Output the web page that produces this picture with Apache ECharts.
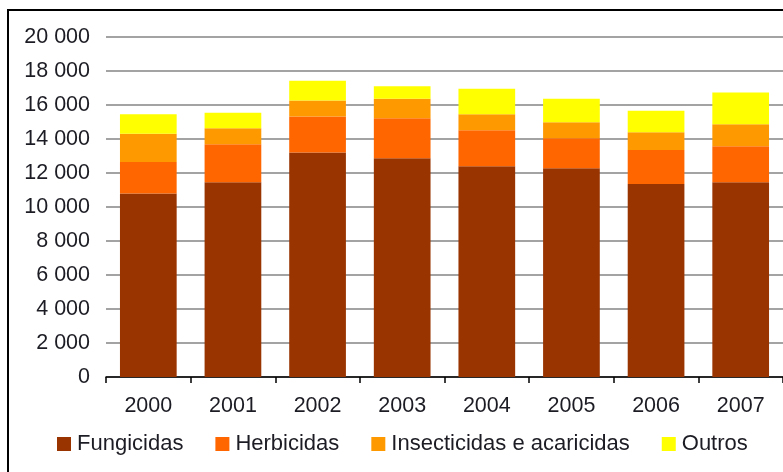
<!DOCTYPE html>
<html>
<head>
<meta charset="utf-8">
<script src="https://cdn.jsdelivr.net/npm/echarts@6/dist/echarts.min.js"></script>
<style>
  body { margin: 0; background: #fff; }
  #wrap { position: relative; width: 783px; height: 472px; overflow: hidden; }
  #main { width: 783px; height: 472px; }
  #frame { position: absolute; left: 7px; top: 9px; width: 800px; height: 500px;
           border-left: 2px solid #000; border-top: 2px solid #000; pointer-events: none; }
</style>
</head>
<body>
<div id="wrap">
  <div id="main"></div>
  <div id="frame"></div>
</div>
<script>
  // anos e valores
  var years = ['2000', '2001', '2002', '2003', '2004', '2005', '2006', '2007'];
  var fungicidas = [10800, 11450, 13200, 12870, 12400, 12280, 11350, 11450];
  var herbicidas = [1850, 2240, 2120, 2350, 2110, 1760, 2000, 2120];
  var insecticidas = [1660, 940, 950, 1150, 940, 940, 1040, 1300];
  var outros = [1150, 920, 1150, 730, 1510, 1390, 1270, 1860];

  var txt = '#1c1c24';
  var font = '"Liberation Sans", Arial, sans-serif';

  var myChart = echarts.init(document.getElementById('main'));

  function serie(name, data, color) {
    return {
      name: name,
      type: 'bar',
      stack: 'total',
      barCategoryGap: '33%',
      itemStyle: { color: color },
      data: data
    };
  }

  var option = {
    animation: false,
    textStyle: { fontFamily: font },
    grid: { left: 106, right: -5, top: 37, bottom: 95 },
    legend: {
      left: 52,
      top: 428,
      itemWidth: 14,
      itemHeight: 14,
      itemGap: 32,
      icon: 'rect',
      textStyle: { fontSize: 22, color: txt, fontFamily: font, padding: [0, 0, 0, 1] },
      data: ['Fungicidas', 'Herbicidas', 'Insecticidas e acaricidas', 'Outros']
    },
    xAxis: {
      type: 'category',
      data: years,
      axisLine: { lineStyle: { color: '#000', width: 1.5 } },
      axisTick: { show: true, length: 6, lineStyle: { color: '#000', width: 1.5 } },
      axisLabel: { color: txt, fontSize: 21.5, margin: 18, fontFamily: font }
    },
    yAxis: {
      type: 'value',
      min: 0,
      max: 20000,
      interval: 2000,
      axisLine: { show: false },
      axisTick: { show: false },
      splitLine: { lineStyle: { color: '#a3a3a3', width: 2 } },
      axisLabel: {
        color: txt,
        fontSize: 21.5,
        margin: 16,
        fontFamily: font,
        formatter: function (v) {
          return String(v).replace(/\B(?=(\d{3})+(?!\d))/g, ' ');
        }
      }
    },
    series: [
      serie('Fungicidas', fungicidas, '#993300'),
      serie('Herbicidas', herbicidas, '#ff6600'),
      serie('Insecticidas e acaricidas', insecticidas, '#ff9900'),
      serie('Outros', outros, '#ffff00')
    ]
  };

  myChart.setOption(option);
</script>
</body>
</html>
